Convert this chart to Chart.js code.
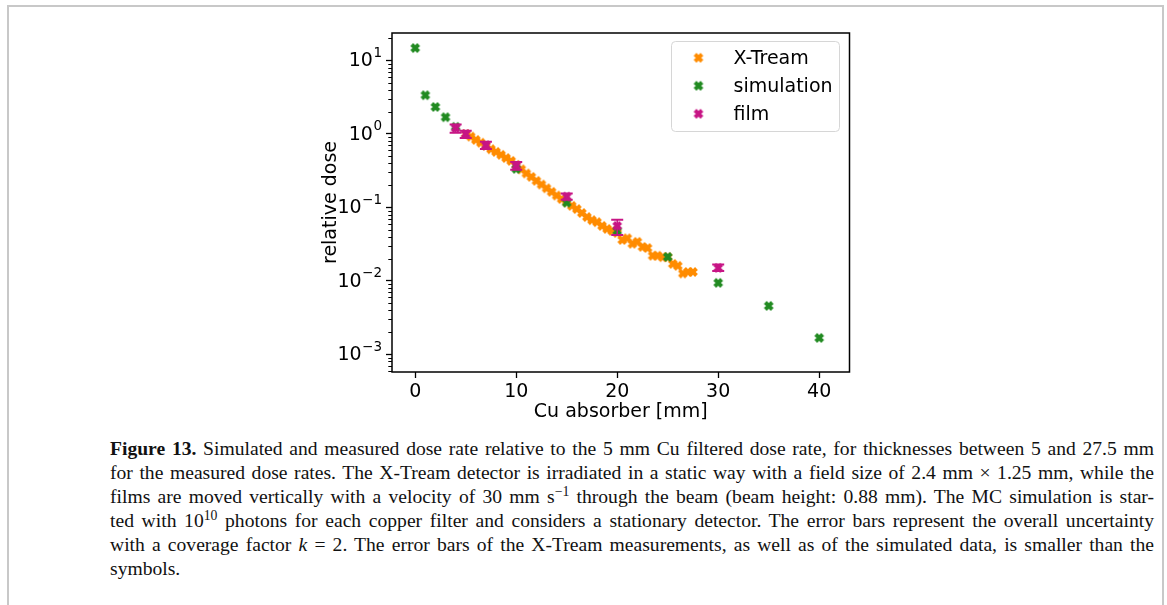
<!DOCTYPE html>
<html>
<head>
<meta charset="utf-8">
<script src="https://cdn.jsdelivr.net/npm/chart.js@4.4.0/dist/chart.umd.min.js"></script>
<style>
    html, body { margin: 0; padding: 0; background: #fff; width: 1167px; height: 605px; overflow: hidden; }
    #marco { position: absolute; left: 7px; top: 5px; width: 1153px; height: 700px; border: 2px solid #c8c8c8; border-bottom: none; }
    #grafica { position: absolute; left: 300px; top: 0; width: 570px; height: 430px; }
    #pie { position: absolute; left: 110px; top: 437px; width: 1044px; font-family: "Liberation Serif", "DejaVu Serif", serif; font-size: 19.6px; line-height: 24px; color: #111; }
    #pie .ln { text-align: justify; text-align-last: justify; white-space: nowrap; }
    #pie .ult { text-align: left; text-align-last: left; }
    #pie sup { font-size: 0.7em; line-height: 0; vertical-align: baseline; position: relative; top: -0.5em; }
</style>
</head>
<body>
<div id="marco"></div>
<div id="grafica"><canvas id="lienzo"></canvas></div>
<div id="pie">
    <div class="ln"><b>Figure 13.</b> Simulated and measured dose rate relative to the 5 mm Cu filtered dose rate, for thicknesses between 5 and 27.5 mm</div>
    <div class="ln">for the measured dose rates. The X-Tream detector is irradiated in a static way with a field size of 2.4 mm × 1.25 mm, while the</div>
    <div class="ln">films are moved vertically with a velocity of 30 mm s<sup>−1</sup> through the beam (beam height: 0.88 mm). The MC simulation is star-</div>
    <div class="ln">ted with 10<sup>10</sup> photons for each copper filter and considers a stationary detector. The error bars represent the overall uncertainty</div>
    <div class="ln">with a coverage factor <i>k</i> = 2. The error bars of the X-Tream measurements, as well as of the simulated data, is smaller than the</div>
    <div class="ult">symbols.</div>
</div>
<script>
// Datos
const xTreamX = [5, 5.5, 6, 6.5, 7, 7.5, 8, 8.5, 9, 9.5, 10, 10.5, 11, 11.5, 12, 12.5, 13, 13.5, 14, 14.5,
    15, 15.5, 16, 16.5, 17, 17.5, 18, 18.5, 19, 19.5, 20, 20.5, 21, 21.5, 22, 22.5, 23, 23.5, 24, 24.5,
    25, 25.5, 26, 26.5, 27, 27.5];
const xTreamY = [1.0, 0.92, 0.83, 0.76, 0.69, 0.62, 0.57, 0.52, 0.47, 0.43, 0.38, 0.33, 0.29, 0.26, 0.23, 0.205, 0.182, 0.163, 0.145, 0.13,
    0.118, 0.105, 0.095, 0.084, 0.074, 0.067, 0.063, 0.056, 0.051, 0.048, 0.045, 0.036, 0.038, 0.032, 0.034, 0.029, 0.028, 0.022, 0.022, 0.021,
    0.021, 0.017, 0.016, 0.0126, 0.0132, 0.0132];

const simX = [0, 1, 2, 3, 4, 10, 15, 20, 25, 30, 35, 40];
const simY = [14.8, 3.37, 2.33, 1.69, 1.25, 0.335, 0.116, 0.048, 0.0212, 0.0094, 0.00456, 0.00167];

const filmX = [4, 5, 7, 10, 15, 20, 30];
const filmY = [1.2, 1.0, 0.70, 0.37, 0.14, 0.056, 0.015];
const filmLo = [1.04, 0.88, 0.625, 0.325, 0.127, 0.042, 0.0136];
const filmHi = [1.35, 1.11, 0.785, 0.415, 0.155, 0.068, 0.0167];

const xTicks = [0, 10, 20, 30, 40];
const yTicks = [0.001, 0.01, 0.1, 1, 10];
const yTickBase = '10';
const yTickExp = ['−3', '−2', '−1', '0', '1'];

const COLORES = {
    naranja: '#ff8c00',
    verde: '#228b22',
    magenta: '#c71585'
};

const FUENTE = 'DejaVu Sans';
Chart.defaults.font.family = FUENTE;
Chart.defaults.color = '#000';

// Marcador 'X' relleno como en matplotlib
function crearMarcador(color) {
    const c = document.createElement('canvas');
    c.width = 12; c.height = 12;
    const g = c.getContext('2d');
    const a = 4.4, b = 1.5;
    const pts = [[b, b], [a, b], [a, -b], [b, -b], [b, -a], [-b, -a], [-b, -b], [-a, -b], [-a, b], [-b, b], [-b, a], [b, a]];
    g.translate(6, 6);
    g.rotate(Math.PI / 4);
    g.beginPath();
    pts.forEach((p, i) => i ? g.lineTo(p[0], p[1]) : g.moveTo(p[0], p[1]));
    g.closePath();
    g.fillStyle = color;
    g.strokeStyle = color;
    g.lineWidth = 1;
    g.fill();
    g.stroke();
    return c;
}

const aPuntos = (xs, ys) => xs.map((x, i) => ({ x: x, y: ys[i] }));

const pluginEstilo = {
    id: 'estilo',
    afterDatasetsDraw(chart) {
        const ctx = chart.ctx;
        const xs = chart.scales.x, ys = chart.scales.y;
        ctx.save();
        ctx.strokeStyle = COLORES.magenta;
        filmX.forEach((x, i) => {
            const px = xs.getPixelForValue(x);
            const yLo = ys.getPixelForValue(filmLo[i]);
            const yHi = ys.getPixelForValue(filmHi[i]);
            ctx.lineWidth = 1.5;
            ctx.beginPath();
            ctx.moveTo(px, yLo); ctx.lineTo(px, yHi);
            ctx.stroke();
            ctx.lineWidth = 2;
            ctx.beginPath();
            ctx.moveTo(px - 6, yLo); ctx.lineTo(px + 6, yLo);
            ctx.moveTo(px - 6, yHi); ctx.lineTo(px + 6, yHi);
            ctx.stroke();
        });
        ctx.restore();
    },
    afterDraw(chart) {
        const ctx = chart.ctx;
        const area = chart.chartArea;
        const ys = chart.scales.y;
        ctx.save();
        // ticks menores del eje log
        ctx.strokeStyle = '#000';
        ctx.lineWidth = 1;
        for (let k = -4; k <= 1; k++) {
            for (let m = 2; m <= 9; m++) {
                const v = m * Math.pow(10, k);
                if (v < ys.min || v > ys.max) continue;
                const py = Math.round(ys.getPixelForValue(v)) + 0.5;
                ctx.beginPath();
                ctx.moveTo(area.left - 3.7, py); ctx.lineTo(area.left, py);
                ctx.stroke();
            }
        }
        // etiquetas 10^n con exponente elevado
        ctx.fillStyle = '#000';
        ctx.textBaseline = 'middle';
        yTicks.forEach((v, i) => {
            const py = ys.getPixelForValue(v);
            const derecha = area.left - 10;
            ctx.font = '13.5px ' + FUENTE;
            const wExp = ctx.measureText(yTickExp[i]).width;
            ctx.fillText(yTickExp[i], derecha - wExp, py - 7);
            ctx.font = '19px ' + FUENTE;
            const wBase = ctx.measureText(yTickBase).width;
            ctx.fillText(yTickBase, derecha - wExp - wBase - 0.5, py + 1);
        });
        // marco de los ejes
        ctx.lineWidth = 1.5;
        ctx.strokeRect(area.left, area.top, area.right - area.left, area.bottom - area.top);

        // leyenda
        const bw = 168, bh = 90;
        const bx = area.right - 10 - bw, by = area.top + 8.5;
        ctx.beginPath();
        ctx.roundRect(bx, by, bw, bh, 4);
        ctx.fillStyle = 'rgba(255,255,255,0.8)';
        ctx.fill();
        ctx.strokeStyle = '#d6d6d6';
        ctx.lineWidth = 1;
        ctx.stroke();
        ctx.font = '19px ' + FUENTE;
        ctx.textBaseline = 'middle';
        ctx.fillStyle = '#000';
        chart.data.datasets.forEach((ds, i) => {
            const ry = by + 16.3 + i * 28;
            const img = ds.pointStyle;
            ctx.drawImage(img, bx + 27 - img.width / 2, ry - img.height / 2);
            ctx.fillText(ds.label, bx + 62, ry + 1);
        });
        ctx.restore();
    }
};

const ejeComun = {
    grid: { display: true, drawOnChartArea: false, drawTicks: true, tickLength: 6, tickWidth: 1.3, tickColor: '#000' },
    border: { display: false }
};

new Chart(document.getElementById('lienzo'), {
    type: 'scatter',
    data: {
        datasets: [
            { label: 'X-Tream', data: aPuntos(xTreamX, xTreamY), pointStyle: crearMarcador(COLORES.naranja), pointRadius: 5, order: 3 },
            { label: 'simulation', data: aPuntos(simX, simY), pointStyle: crearMarcador(COLORES.verde), pointRadius: 5, order: 2 },
            { label: 'film', data: aPuntos(filmX, filmY), pointStyle: crearMarcador(COLORES.magenta), pointRadius: 5, order: 1 }
        ]
    },
    options: {
        responsive: true,
        maintainAspectRatio: false,
        animation: false,
        layout: { padding: { left: 0, right: 20.5, top: 33, bottom: 0 } },
        plugins: { legend: { display: false }, tooltip: { enabled: false } },
        scales: {
            x: {
                ...ejeComun,
                type: 'linear',
                min: -2.3,
                max: 43,
                afterBuildTicks: s => { s.ticks = xTicks.map(v => ({ value: v })); },
                afterFit: s => { s.height = 58; },
                ticks: { font: { size: 19 }, color: '#000', padding: 3, maxRotation: 0, autoSkip: false },
                title: { display: true, text: 'Cu absorber [mm]', font: { size: 19 }, color: '#000', padding: { top: 0, bottom: 7 } }
            },
            y: {
                ...ejeComun,
                type: 'logarithmic',
                min: 5.74e-4,
                max: 23.7,
                afterBuildTicks: s => { s.ticks = yTicks.map(v => ({ value: v })); },
                afterFit: s => { s.width = 92; },
                ticks: { font: { size: 19 }, color: 'rgba(0,0,0,0)', padding: 4, autoSkip: false, callback: (v, i) => yTickBase + yTickExp[i] },
                title: { display: true, text: 'relative dose', font: { size: 19 }, color: '#000', padding: { top: 20, bottom: 0 } }
            }
        }
    },
    plugins: [pluginEstilo]
});
</script>
</body>
</html>
